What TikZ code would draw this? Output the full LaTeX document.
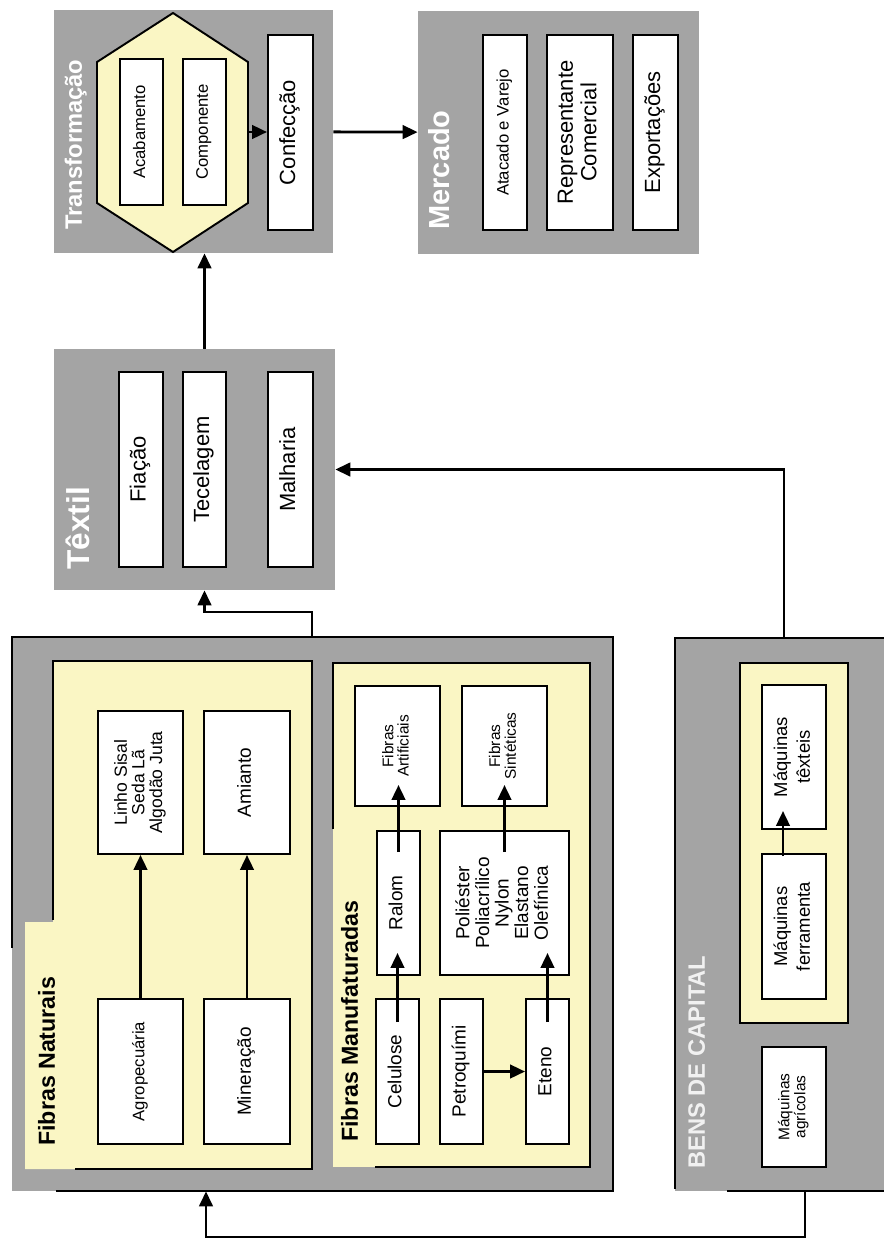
\documentclass[tikz,border=0pt]{standalone}
\usepackage{fontspec}
\setmainfont{Liberation Sans}
\usetikzlibrary{arrows.meta,calc}

\definecolor{panelgray}{RGB}{164,164,164}
\definecolor{paleyellow}{RGB}{250,246,196}

% vertical (rotated) text, several lines allowed
\newcommand{\vt}[1]{\rotatebox{90}{\begin{tabular}{@{}c@{}}#1\end{tabular}}}

\begin{document}
\begin{tikzpicture}[
  x=0.02cm, y=-0.02cm,
  font=\fontsize{12.5}{13.3}\selectfont,
  panel/.style={rectangle,fill=panelgray,inner sep=0pt},
  box/.style={rectangle,draw=black,line width=1.1pt,fill=white,inner sep=0pt},
  sz/.style 2 args={minimum width=#1*0.02cm,minimum height=#2*0.02cm},
  fbig/.style={font=\fontsize{12.5}{13.3}\selectfont},
  fmid/.style={font=\fontsize{10.8}{11}\selectfont},
  fmaq/.style={font=\fontsize{10.5}{12.9}\selectfont},
  fsml/.style={font=\fontsize{9.5}{9}\selectfont},
  ftiny/.style={font=\fontsize{8.8}{8}\selectfont},
  hdr/.style={inner sep=0pt,anchor=south,text=white,font=\bfseries\fontsize{13.5}{14}\selectfont},
  subhdr/.style={hdr,text=black,font=\bfseries\fontsize{13.2}{14}\selectfont},
  rim/.style={line width=1.1pt},
  arr/.style={-{Triangle[length=0.3cm,width=0.27cm]},line width=1.6pt},
]
\useasboundingbox (0,0) rectangle (884,1241);

% ---- gray panels ----
\node[panel,sz={279}{243}] (transf) at (193.5,131.5) {};
\node[panel,sz={281}{243}] (merc)   at (558.5,132.5) {};
\node[panel,sz={281}{241}] (textil) at (194.5,469.5) {};
\node[panel,sz={601}{554}] (fib)    at (312.5,914) {};
\node[panel,sz={209}{553}] (bens)   at (779.5,914.5) {};

\draw[rim] (12,948) |- (613,637) |- (56,1191);
\draw[rim] (675,1189) |- (884,638);
\draw[rim] (727,1191) -- (884,1191);

% ---- yellow inner panels ----
\fill[paleyellow] (53,661) rectangle (312,1169) (25,922) rectangle (57,1169);
\draw[rim] (53,920) |- (312,661) |- (75,1169);
\fill[paleyellow] (333,663) rectangle (590,1167);
\draw[rim] (333,829) |- (590,663) |- (375,1167);
\draw[rim,fill=paleyellow] (740,663) rectangle (848,1023);

\draw[rim,fill=paleyellow] (173,13) -- (248,62) -- (248,203) -- (173,252)
  -- (97,203) -- (97,62) -- cycle;
\coordinate (hexr) at (248,132);

% ---- headings ----
\node[hdr] (ltransf) at (77,230) {\vt{Transformação}};
\node[hdr,font=\bfseries\fontsize{16.5}{17}\selectfont] (lmerc) at (443,230) {\vt{Mercado}};
\node[hdr,font=\bfseries\fontsize{18}{19}\selectfont] (ltextil) at (83,570) {\vt{Têxtil}};
\node[subhdr] (lnat) at (50,1146) {\vt{Fibras Naturais}};
\node[subhdr] (lman) at (353,1142) {\vt{Fibras Manufaturadas}};
\node[hdr,text=white!85!panelgray] (lbens) at (700,1169) {\vt{BENS DE CAPITAL}};

% ---- transformacao / mercado ----
\node[box,sz={43}{146},fsml] (acab)   at (141.5,132) {\vt{Acabamento}};
\node[box,sz={43}{146},fsml] (compo)  at (204.5,132) {\vt{Componente}};
\node[box,sz={45}{195},fbig] (confec) at (290.5,132.5) {\vt{Confecção}};
\node[box,sz={44}{195},fsml] (atac)   at (505,132.5) {\vt{Atacado e Varejo}};
\node[box,sz={66}{195},fbig] (repr)   at (580,132.5) {\vt{Representante\\Comercial}};
\node[box,sz={45}{195},fbig] (expo)   at (655.5,132.5) {\vt{Exportações}};

% ---- textil ----
\node[box,sz={44}{195},fbig] (fiac)  at (141,469.5) {\vt{Fiação}};
\node[box,sz={43}{195},fbig] (tecel) at (204.5,469.5) {\vt{Tecelagem}};
\node[box,sz={45}{195},fbig] (malha) at (290.5,469.5) {\vt{Malharia}};

% ---- fibras naturais ----
\node[box,sz={85}{143},font=\fontsize{10}{9.2}\selectfont] (linho) at (140.5,782.5)
  {\vt{Linho Sisal\\Seda Lã\\Algodão Juta}};
\node[box,sz={86}{143},fmid] (amian) at (247,782.5) {\vt{Amianto}};
\node[box,sz={85}{145},fsml] (agro)  at (140.5,1071.5) {\vt{Agropecuária}};
\node[box,sz={86}{145},fmid] (miner) at (247,1071.5) {\vt{Mineração}};

% ---- fibras manufaturadas ----
\node[box,sz={85}{120},ftiny] (artif) at (397.5,746) {\vt{Fibras\\Artificiais}};
\node[box,sz={85}{120},ftiny] (sinte) at (504.5,746) {\vt{Fibras\\Sintéticas}};
\node[box,sz={43}{144},fmid]  (ralom) at (398.5,903) {\vt{Ralom}};
\node[box,sz={129}{144},fmid] (polie) at (504.5,903)
  {\vt{Poliéster\\Poliacrílico\\Nylon\\Elastano\\Olefínica}};
\node[box,sz={43}{145},fmid]  (celul) at (397.5,1071.5) {\vt{Celulose}};
\node[box,sz={43}{145},fmid]  (petro) at (461.5,1071.5) {\vt{Petroquími}};
\node[box,sz={43}{145},fmid]  (eteno) at (547.5,1071.5) {\vt{Eteno}};

% ---- bens de capital ----
\node[box,sz={64}{144},fmaq] (mtex) at (794,757) {\vt{Máquinas\\têxteis}};
\node[box,sz={64}{145},fmaq] (mfer) at (794,926.5) {\vt{Máquinas\\ferramenta}};
\node[box,sz={64}{120},font=\fontsize{8.8}{8.6}\selectfont] (magr) at (794,1107) {\vt{Máquinas\\agrícolas}};

% ---- connectors ----
\draw[arr] (hexr) -- (confec.west |- hexr);
\draw[arr] (transf) -- (merc);
\draw[arr] (tecel |- textil.north) -- (tecel |- transf.south);
\coordinate (j1) at (312,612);
\draw[arr] (j1 |- fib.north) -- (j1) -| (textil.south -| tecel);
\draw[arr] ([xshift=0.09cm]bens.north) |- (textil.east);
\coordinate (j3) at (206,1237);
\draw[arr] ([xshift=0.51cm]bens.south) |- (j3) -- (j3 |- fib.south);

\draw[arr] (agro) -- (linho);
\draw[arr] (miner) -- (amian);
\draw[arr,shorten <=-0.48cm,shorten >=-0.46cm] (celul.north) -- (celul.north |- ralom.south);
\draw[arr,shorten <=-0.44cm,shorten >=-0.44cm] (ralom.north) -- (ralom.north |- artif.south);
\draw[arr,shorten <=-0.44cm,shorten >=-0.44cm] (sinte.south |- polie.north) -- (sinte.south);
\draw[arr,shorten <=-0.48cm,shorten >=-0.46cm] (eteno.north) -- (eteno.north |- polie.south);
\draw[arr] (petro) -- (eteno);
\draw[arr,shorten <=-0.06cm,shorten >=-0.38cm] ([xshift=-0.22cm]mfer.north) -- ([xshift=-0.22cm]mtex.south);
\end{tikzpicture}
\end{document}
